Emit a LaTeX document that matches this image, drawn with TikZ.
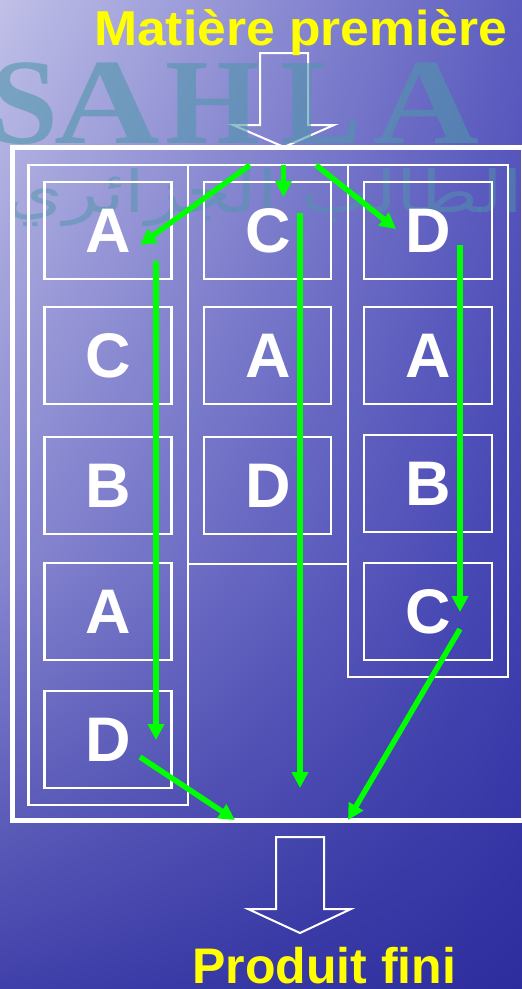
\documentclass[tikz,border=0pt]{standalone}
\usepackage{fontspec}
\setmainfont{Liberation Sans}
\newfontfamily\wmfont{Liberation Serif}
\newfontfamily\arabicfont[Script=Arabic]{DejaVu Sans}
\TeXXeTstate=1
\usetikzlibrary{arrows.meta,shadings}
\definecolor{bgUL}{RGB}{192,192,232}
\definecolor{bgUR}{RGB}{92,92,192}
\definecolor{bgML}{RGB}{135,135,208}
\definecolor{bgMR}{RGB}{66,66,178}
\definecolor{bgLL}{RGB}{64,64,170}
\definecolor{bgLR}{RGB}{45,45,158}
\definecolor{wmteal}{RGB}{80,150,170}
\definecolor{arrowgreen}{RGB}{0,255,0}
\definecolor{titleyellow}{RGB}{255,255,0}
\tikzset{
  box/.style={draw=white, line width=2.2pt, minimum width=127pt, minimum height=97pt,
    inner sep=0pt, text=white, font=\bfseries\fontsize{63}{63}\selectfont},
  colframe/.style={draw=white, line width=2.2pt},
  outerframe/.style={draw=white, line width=5pt},
  blockarrow/.style={draw=white, line width=2pt, line join=miter},
  flow/.style={draw=arrowgreen, line width=5.5pt, -{Triangle[length=16pt,width=16pt]}},
  titletext/.style={text=titleyellow, inner sep=0pt, font=\bfseries\fontsize{49}{49}\selectfont},
  wm/.style={text=wmteal, opacity=0.6, inner sep=0pt, font=\wmfont\bfseries\fontsize{122}{122}\selectfont},
}
\begin{document}
\begin{tikzpicture}[x=1pt,y=-1pt]
\useasboundingbox (0,0) rectangle (522,989);
% background
\shade[upper left=bgUL, upper right=bgUR, lower left=bgML, lower right=bgMR] (0,0) rectangle (522,560);
\shade[upper left=bgML, upper right=bgMR, lower left=bgLL, lower right=bgLR] (0,560) rectangle (522,989);
% top block arrow
\draw[blockarrow] (260,53) -- (308,53) -- (308,125) -- (334,125) -- (284,147) -- (233,125) -- (260,125) -- cycle;
% watermark
\node[wm, anchor=base] (w1) at (24,143) {S};
\node[wm, anchor=base] (w2) at (107,143) {\scalebox{1.2}[1]{A}};
\node[wm, anchor=base] (w3) at (213,143) {H};
\node[wm, anchor=base] (w4) at (321,143) {L};
\node[wm, anchor=base] (w5) at (426,143) {\scalebox{1.2}[1]{A}};
\node[text=wmteal, opacity=0.5, inner sep=0pt, anchor=base west] (w6) at (5,212)
  {\resizebox{518pt}{44pt}{\arabicfont\beginR الطالب الجزائري\endR}};
% titles
\node[titletext, anchor=base west] (t1) at (94,45) {\scalebox{1.054}[1]{Matière première}};
\node[titletext, anchor=base west] (t2) at (192,983) {\fontsize{50}{50}\selectfont Produit fini};
% bottom block arrow
\draw[blockarrow] (276,837) -- (324,837) -- (324,909) -- (351,909) -- (300,933) -- (248,909) -- (276,909) -- cycle;
% frames
\draw[outerframe] (12,147.5) rectangle (523,820);
\draw[colframe] (28.5,165) rectangle (188,805);
\draw[colframe] (188,165) rectangle (348,564);
\draw[colframe] (348,165) rectangle (508,677);
% boxes column 1
\node[box] (a1) at (108,230.5) {A};
\node[box] (c1) at (108,355.5) {C};
\node[box] (b1) at (108,485.5) {B};
\node[box] (a1b) at (108,611.5) {A};
\node[box] (d1) at (108,739.5) {D};
% column 2
\node[box] (c2) at (267.75,230.5) {C};
\node[box] (a2) at (267.75,355.5) {A};
\node[box] (d2) at (267.75,485.5) {D};
% column 3
\node[box, minimum width=128pt] (d3) at (428,230.5) {D};
\node[box, minimum width=128pt] (a3) at (428,355.5) {A};
\node[box, minimum width=128pt] (b3) at (428,483.5) {B};
\node[box, minimum width=128pt] (c3) at (428,611.5) {C};
% flow coordinates
\coordinate (s1) at (250,165);
\coordinate (e1) at (140,245);
\coordinate (s2) at (283.5,165);
\coordinate (e2) at (283.5,197);
\coordinate (s3) at (316,165);
\coordinate (e3) at (396,229);
\coordinate (s4) at (156,261);
\coordinate (e4) at (156,740);
\coordinate (s5) at (300,213);
\coordinate (e5) at (300,788);
\coordinate (s6) at (460,245);
\coordinate (e6) at (460,612);
\coordinate (s7) at (140,757);
\coordinate (e7) at (235,820);
\coordinate (s8) at (460,629);
\coordinate (e8) at (348,820);
\draw[flow] (s1) -- (e1);
\draw[flow] (s2) -- (e2);
\draw[flow] (s3) -- (e3);
\draw[flow] (s4) -- (e4);
\draw[flow] (s5) -- (e5);
\draw[flow] (s6) -- (e6);
\draw[flow] (s7) -- (e7);
\draw[flow] (s8) -- (e8);
\end{tikzpicture}
\end{document}
